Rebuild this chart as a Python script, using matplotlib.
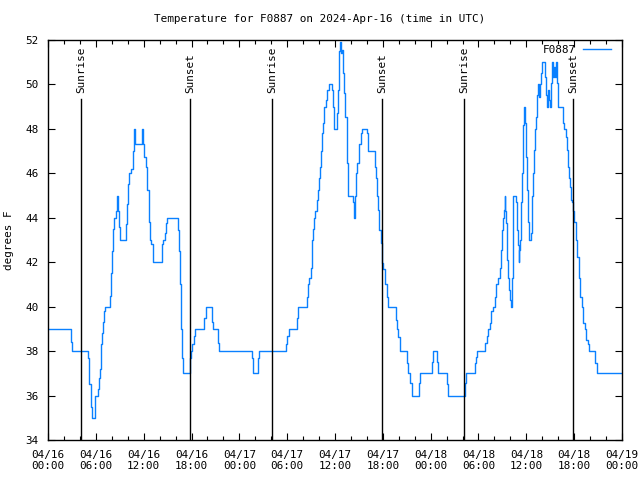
import matplotlib
matplotlib.use("Agg")
import matplotlib.pyplot as plt
from matplotlib.ticker import MultipleLocator, FixedLocator

# ---- data (hours since 2024-04-16 00:00 UTC, degrees F) ----
hours = [
    0, 2.84, 3.0, 5.06, 5.2, 5.35, 5.5, 5.85, 5.95, 6.25, 6.4, 6.55, 6.7, 6.82, 6.94, 7.07, 7.2,
    7.78, 7.9, 8.03, 8.15, 8.25, 8.53, 8.7, 8.8, 8.95, 9.07, 9.83, 9.95, 10.08, 10.2, 10.45, 10.6,
    10.85, 10.95, 11.8, 11.9, 12.1, 12.3, 12.46, 12.63, 12.8, 12.95, 13.15, 14.3, 14.47, 14.63,
    14.8, 14.93, 16.31, 16.43, 16.56, 16.72, 16.85, 16.97, 17.85, 17.98, 18.1, 18.27, 18.44,
    19.61, 19.78, 20.61, 20.74, 21.37, 21.49,
    25.63, 25.75, 26.35, 26.5, 29.85, 30.02, 30.2, 31.19, 31.32, 32.45, 32.57, 32.7, 32.95, 33.07,
    33.2, 33.33, 33.49, 33.7, 33.83, 33.95, 34.08, 34.2, 34.33, 34.5, 34.66, 34.83, 34.95, 35.2,
    35.63, 35.75, 35.88, 36.21, 36.34, 36.46, 36.67, 36.8, 36.88, 37.0, 37.13, 37.29, 37.46,
    37.55, 37.67, 38.3, 38.43, 38.55, 38.68, 38.8, 39.0, 39.22, 39.43, 39.97, 40.1, 41.02, 41.14,
    41.31, 41.44, 41.56, 41.73, 41.85, 41.94, 42.06, 42.27, 42.48, 42.65, 43.61, 43.74, 43.95,
    44.15, 44.99, 45.2, 45.41, 45.62, 46.58, 46.7,
    48.13, 48.25, 48.84, 48.96, 50.09, 50.22, 52.31, 52.43, 53.56, 53.69, 53.86, 54.86, 55.03,
    55.15, 55.45, 55.6, 55.8, 56.11, 56.24, 56.49, 56.66, 56.78, 56.91, 57.04, 57.2, 57.29, 57.37,
    57.45, 57.62, 57.74, 57.87, 58.0, 58.08, 58.16, 58.29, 58.37, 58.67, 58.79, 58.92, 59.04,
    59.13, 59.21, 59.33, 59.46, 59.63, 59.75, 59.88, 59.96, 60.09, 60.21, 60.34, 60.63, 60.76,
    60.88, 61.01, 61.13, 61.26, 61.38, 61.51, 61.63, 61.76, 61.88, 62.01, 62.39, 62.51, 62.64,
    62.76, 62.89, 63.01, 63.14, 63.26, 63.39, 63.51, 63.64, 63.77, 63.89, 64.02, 64.64, 64.77,
    64.94, 65.06, 65.23, 65.36, 65.48, 65.65, 65.77, 65.9, 66.02, 66.19, 66.36, 66.57, 66.73,
    66.94, 67.15, 67.36, 67.53, 67.69, 67.9, 68.65, 68.82, 72.0,
]
temps = [
    39, 38.4, 38, 37.7, 36.5, 35.5, 35, 35.3, 36, 36.3, 36.8, 37.2, 38.3, 38.8, 39.3, 39.8, 40,
    40.5, 41.5, 42.5, 43.5, 44, 44.3, 45, 44.3, 43.6, 43, 43.7, 44.6, 45.5, 46, 46.2, 47,
    48, 47.3, 48, 47.3, 46.75, 46.3, 45.25, 43.8, 43, 42.8, 42, 42.8, 43, 43.3,
    43.75, 44, 43.45, 42.5, 41, 39, 37.7, 37, 37.7, 38, 38.3, 38.7, 39,
    39.5, 40, 39.3, 39, 38.35, 38,
    37.7, 37, 37.7, 38, 38.3, 38.7, 39, 39.5, 40, 40.45, 41, 41.3, 41.75, 43,
    43.5, 44, 44.3, 44.8, 45.25, 45.8, 46.3, 47, 47.8, 48.25, 49, 49.3, 49.75, 50,
    49.75, 49, 48, 48.7, 49.75, 51.5, 51.9, 51.4, 51.55, 50.5, 49.6, 48.55, 47.6,
    46.45, 45, 44.7, 44, 45, 46, 46.45, 47.3, 47.8, 48, 47.8, 47, 46.3, 45.8,
    45, 44.35, 43.45, 42.85, 42.25, 41.95, 41.7, 41, 40.45, 40, 39.4, 39, 38.65,
    38, 37.45, 37, 36.55, 36, 36.55, 37,
    37.5, 38, 37.5, 37, 36.5, 36, 36.55, 37, 37.45, 37.75, 38, 38.35, 38.7,
    39, 39.25, 39.8, 40, 40.45, 41, 41.3, 41.75, 42.55, 43.45, 44, 44.35, 45, 44.3,
    43.75, 42.1, 41.3, 40.75, 40.3, 40, 41.3, 43, 45, 44.7, 43.45, 42.77, 42.03,
    42.55, 43, 44.7, 46, 48.17, 49, 48.25, 46.75, 45.25, 43.82, 43, 43.3, 45,
    46, 47.05, 48, 48.55, 49.52, 50, 49.45, 50, 50.5, 51, 50.35, 49.52, 49,
    49.75, 49.3, 49, 50.05, 51, 50.35, 50.8, 50.35, 51, 50.05, 49, 48.25, 48,
    47.65, 47.05, 46.3, 45.8, 45.4, 44.8, 44.7, 44.3, 43.82, 43, 42.25, 41.3, 40.45,
    40, 39.25, 39, 38.5, 38.3, 38, 37.45, 37, 37,
]

sunrise_hours = [4.18, 28.14, 52.22]
sunset_hours = [17.85, 41.94, 65.9]

xtick_hours = [0, 6, 12, 18, 24, 30, 36, 42, 48, 54, 60, 66, 72]
xtick_labels = ["04/16\n00:00", "04/16\n06:00", "04/16\n12:00", "04/16\n18:00",
                "04/17\n00:00", "04/17\n06:00", "04/17\n12:00", "04/17\n18:00",
                "04/18\n00:00", "04/18\n06:00", "04/18\n12:00", "04/18\n18:00",
                "04/19\n00:00"]
yticks = [34, 36, 38, 40, 42, 44, 46, 48, 50, 52]

plt.rcParams['font.family'] = ['DejaVu Sans Mono']
FS = 7.9

fig = plt.figure(figsize=(6.4, 4.8), dpi=100)
ax = fig.add_axes([48/640, 40/480, (622-48)/640, (440-40)/480])

line_color = '#0a80ff'
ax.plot(hours, temps, drawstyle='steps-post', color=line_color, lw=1.0, label='F0887')

for h in sunrise_hours:
    ax.plot([h, h], [34, 49.35], color='black', lw=1.0)
    ax.text(h, 49.6, 'Sunrise', rotation=90, ha='center', va='bottom', fontsize=FS)
for h in sunset_hours:
    ax.plot([h, h], [34, 49.35], color='black', lw=1.0)
    ax.text(h, 49.6, 'Sunset', rotation=90, ha='center', va='bottom', fontsize=FS)

ax.set_xlim(0, 72)
ax.set_ylim(34, 52)
ax.xaxis.set_major_locator(FixedLocator(xtick_hours))
ax.set_xticklabels(xtick_labels)
ax.xaxis.set_minor_locator(MultipleLocator(2))
ax.set_yticks(yticks)
ax.tick_params(axis='both', which='major', direction='in', top=True, right=True,
               length=5, width=0.8, labelsize=FS, pad=7)
ax.tick_params(axis='x', which='minor', direction='in', top=True, bottom=True,
               length=3, width=0.8)
for s in ax.spines.values():
    s.set_linewidth(1.0)

ax.set_ylabel('degrees F', fontsize=FS, labelpad=8)
fig.text(0.5, 1 - 19/480, 'Temperature for F0887 on 2024-Apr-16 (time in UTC)',
         ha='center', va='center', fontsize=FS)

leg = ax.legend(loc='upper right', frameon=False, fontsize=FS, handlelength=2.6,
                markerfirst=False, borderaxespad=0.0, borderpad=0.2,
                handletextpad=0.6, bbox_to_anchor=(0.985, 0.9925))

fig.savefig('out.png', dpi=100)
